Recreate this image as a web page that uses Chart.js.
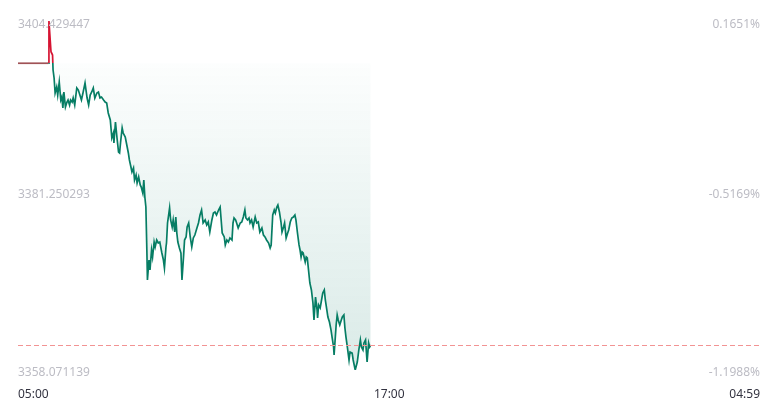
<!DOCTYPE html>
<html>
<head>
<meta charset="utf-8">
<script src="https://cdn.jsdelivr.net/npm/chart.js@4/dist/chart.umd.min.js"></script>
<style>
    body { margin: 0; background: #fff; }
    #wrap { width: 776px; height: 407px; }
</style>
</head>
<body>
<div id="wrap"><canvas id="chart" width="776" height="407"></canvas></div>
<script>
// minutes after 05:00 and the price at that minute
const minutes = [
    0, 59, 60, 64, 67, 68, 70, 72, 75, 77, 80, 83, 85, 87, 89, 92, 95, 97, 100, 102,
    105, 107, 110, 114, 117, 120, 123, 126, 130, 134, 137, 140, 143, 146, 149, 153, 156, 159, 162, 166,
    169, 172, 175, 179, 182, 185, 186, 189, 192, 195, 197, 199, 202, 204, 208, 211, 214, 216, 219, 221,
    224, 226, 229, 231, 234, 237, 239, 242, 244, 246, 248, 250, 251, 254, 256, 259, 261, 264, 266, 269,
    272, 275, 279, 282, 284, 287, 288, 290, 294, 296, 299, 301, 304, 306, 308, 310, 313, 316, 318, 321,
    323, 326, 328, 331, 334, 337, 340, 343, 347, 350, 353, 356, 359, 363, 366, 369, 372, 376, 379, 382,
    385, 389, 392, 394, 396, 400, 402, 405, 408, 411, 415, 417, 419, 422, 424, 427, 431, 434, 437, 440,
    442, 445, 448, 450, 453, 456, 460, 463, 466, 469, 473, 476, 479, 482, 486, 489, 491, 494, 497, 499,
    502, 504, 507, 510, 512, 515, 517, 520, 523, 525, 528, 531, 534, 537, 539, 542, 545, 547, 549, 551,
    553, 557, 559, 561, 564, 566, 569, 572, 574, 577, 580, 581, 583, 586, 588, 591, 594, 596, 599, 601,
    604, 607, 609, 612, 613, 615, 617, 619, 621, 624, 627, 629, 632, 634, 636, 639, 642, 644, 648, 650,
    654, 656, 658, 661, 664, 666, 669, 671, 674, 677, 680, 682, 684
]
const prices = [
    3398.818, 3398.818, 3404.429, 3400.35, 3399.91, 3397.92, 3396.86, 3394.87, 3395.66, 3394.60,
    3396.33, 3393.94, 3394.33, 3392.87, 3395.00, 3393.01, 3393.67, 3393.94, 3393.27, 3393.94,
    3393.67, 3394.20, 3393.27, 3395.53, 3395.26, 3394.60, 3393.94, 3394.87, 3396.19, 3394.20,
    3393.27, 3394.60, 3395.00, 3395.53, 3394.20, 3394.87, 3395.00, 3394.20, 3394.33, 3393.94,
    3393.67, 3393.54, 3392.21, 3391.28, 3388.89, 3389.55, 3388.22, 3391.01, 3388.89, 3387.03,
    3386.90, 3388.36, 3390.22, 3389.55, 3389.02, 3387.96, 3386.90, 3385.97, 3385.04, 3384.37,
    3384.90, 3383.31, 3383.97, 3382.91, 3383.71, 3382.65, 3382.38, 3381.58, 3383.31, 3381.05,
    3379.72, 3373.61, 3370.03, 3372.68, 3371.35, 3374.01, 3373.08, 3375.07, 3374.41, 3375.34,
    3374.94, 3375.07, 3373.61, 3372.68, 3371.62, 3374.41, 3374.94, 3377.60, 3379.59, 3378.00,
    3377.07, 3378.00, 3376.40, 3378.39, 3376.27, 3375.07, 3374.28, 3373.61, 3370.03, 3373.08,
    3375.34, 3375.74, 3377.07, 3377.60, 3375.74, 3374.41, 3375.61, 3376.00, 3376.93, 3377.60,
    3378.66, 3379.32, 3377.60, 3378.00, 3377.33, 3377.73, 3376.40, 3378.00, 3378.93, 3379.06,
    3378.66, 3379.32, 3379.72, 3378.00, 3376.27, 3375.74, 3374.68, 3375.34, 3375.07, 3375.61,
    3375.34, 3377.60, 3378.26, 3378.00, 3377.60, 3376.93, 3377.60, 3377.73, 3378.39, 3379.32,
    3378.26, 3378.00, 3378.26, 3377.60, 3378.00, 3377.07, 3378.39, 3377.60, 3377.73, 3376.40,
    3376.93, 3376.00, 3375.74, 3375.34, 3374.94, 3374.28, 3374.68, 3378.66, 3379.32, 3378.93,
    3379.72, 3379.99, 3379.06, 3377.73, 3376.40, 3377.07, 3377.60, 3375.61, 3376.27, 3376.67,
    3377.73, 3378.26, 3378.39, 3378.66, 3378.00, 3376.27, 3374.68, 3374.01, 3373.08, 3373.75,
    3373.61, 3372.42, 3373.08, 3372.95, 3370.96, 3369.63, 3368.70, 3366.97, 3364.71, 3367.77,
    3366.04, 3364.98, 3366.71, 3366.31, 3367.10, 3368.30, 3368.70, 3367.37, 3366.04, 3365.11,
    3364.45, 3363.39, 3362.46, 3361.13, 3360.06, 3362.06, 3364.05, 3365.38, 3364.71, 3364.05,
    3364.71, 3365.11, 3365.38, 3363.65, 3362.46, 3360.99, 3359.40, 3360.46, 3360.33, 3359.40,
    3358.071, 3358.60, 3359.13, 3360.73, 3362.06, 3361.13, 3360.73, 3361.66, 3362.06, 3359.13,
    3361.66, 3361.13, 3361.39
]

const preClose = 3398.818
const yTickValues = [3404.429447, 3381.250293, 3358.071139]
const yTickLabels = ['3404.429447', '3381.250293', '3358.071139']
const pctLabels = ['0.1651%', '-0.5169%', '-1.1988%']
const xTickMinutes = [0, 720, 1439]
const xTickLabels = ['05:00', '17:00', '04:59']

const UP = 'rgb(214, 20, 50)'
const DOWN = 'rgb(6, 125, 100)'
const FLAT = 'rgb(160, 82, 86)'
const FONT = '12px "Noto Sans", "DejaVu Sans", sans-serif'

const points = minutes.map((m, i) => ({ x: m, y: prices[i] }))
const lastPrice = prices[prices.length - 1]

function lineColor(context) {
    const chart = context.chart
    const area = chart.chartArea
    if (!area) return DOWN
    const basePx = chart.scales.y.getPixelForValue(preClose)
    const stop = Math.min(1, Math.max(0, (basePx - area.top) / (area.bottom - area.top)))
    const g = chart.ctx.createLinearGradient(0, area.top, 0, area.bottom)
    g.addColorStop(0, UP)
    g.addColorStop(stop, UP)
    g.addColorStop(stop, DOWN)
    g.addColorStop(1, DOWN)
    return g
}

function fillColor(context) {
    const chart = context.chart
    const area = chart.chartArea
    if (!area) return 'rgba(6,125,100,0.1)'
    const basePx = chart.scales.y.getPixelForValue(preClose)
    const g = chart.ctx.createLinearGradient(0, basePx, 0, area.bottom)
    g.addColorStop(0, 'rgba(6, 125, 100, 0.01)')
    g.addColorStop(1, 'rgba(6, 115, 95, 0.15)')
    return g
}

// axis texts and last price line
const overlay = {
    id: 'overlay',
    afterDatasetsDraw(chart) {
        const ctx = chart.ctx
        const area = chart.chartArea
        const xs = chart.scales.x
        const ys = chart.scales.y
        ctx.save()

        // dashed last price line
        const lp = Math.round(ys.getPixelForValue(lastPrice)) + 0.5
        ctx.strokeStyle = '#f29393'
        ctx.lineWidth = 1
        ctx.setLineDash([5, 3])
        ctx.beginPath()
        ctx.moveTo(area.left, lp)
        ctx.lineTo(area.right, lp)
        ctx.stroke()
        ctx.setLineDash([])

        ctx.font = FONT
        ctx.fillStyle = '#bcbcc4'
        ctx.textBaseline = 'middle'
        const offs = [4, -1, 3]
        yTickValues.forEach((v, i) => {
            const py = ys.getPixelForValue(v) + offs[i]
            ctx.textAlign = 'left'
            ctx.fillText(yTickLabels[i], area.left, py)
            ctx.textAlign = 'right'
            ctx.fillText(pctLabels[i], area.right, py)
        })

        ctx.fillStyle = '#333340'
        xTickMinutes.forEach((m, i) => {
            const px = xs.getPixelForValue(m)
            ctx.textAlign = i === 0 ? 'left' : (i === xTickMinutes.length - 1 ? 'right' : 'center')
            ctx.fillText(xTickLabels[i], px, area.bottom + 25)
        })
        ctx.restore()
    }
}

new Chart(document.getElementById('chart'), {
    type: 'line',
    data: {
        datasets: [{
            data: points,
            borderColor: lineColor,
            backgroundColor: fillColor,
            borderWidth: 1.7,
            pointRadius: 0,
            tension: 0,
            fill: { value: preClose },
            segment: {
                // pre-open stretch sits right on the previous close
                borderColor: s => s.p0.parsed.y === preClose && s.p1.parsed.y === preClose ? FLAT : undefined
            }
        }]
    },
    options: {
        responsive: false,
        animation: false,
        events: [],
        layout: { padding: { left: 18, right: 16, top: 21, bottom: 37 } },
        plugins: {
            legend: { display: false },
            tooltip: { enabled: false }
        },
        scales: {
            x: { type: 'linear', min: 0, max: 1439, display: false },
            y: { min: yTickValues[2], max: yTickValues[0], display: false }
        }
    },
    plugins: [overlay]
})
</script>
</body>
</html>
